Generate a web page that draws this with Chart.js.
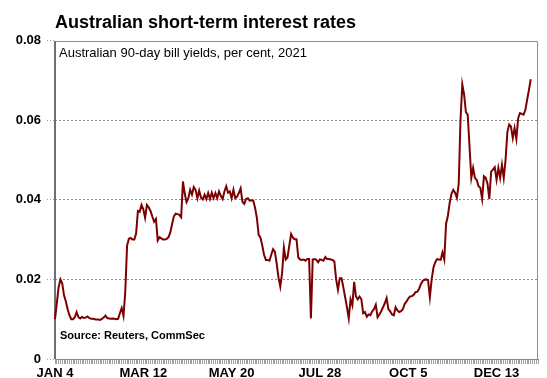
<!DOCTYPE html>
<html>
<head>
<meta charset="utf-8">
<script src="https://cdn.jsdelivr.net/npm/chart.js@4.4.1/dist/chart.umd.min.js"></script>
<style>
  html, body { margin: 0; padding: 0; background: #ffffff; }
  #wrap { width: 547px; height: 378px; position: relative; }
</style>
</head>
<body>
<div id="wrap"><canvas id="c" width="547" height="378"></canvas></div>
<script>
// ---- data ----
const titleText = 'Australian short-term interest rates';
const subtitleText = 'Australian 90-day bill yields, per cent, 2021';
const sourceText = 'Source: Reuters, CommSec';

const xTickLabels = ['JAN 4', 'MAR 12', 'MAY 20', 'JUL 28', 'OCT 5', 'DEC 13'];
const xTickEvery = 49;            // business days between labelled ticks
const categoryCount = 269;        // business-day slots on the axis

const yTickValues = [0, 0.02, 0.04, 0.06, 0.08];
const yTickLabels = ['0', '0.02', '0.04', '0.06', '0.08'];

const billYields = [
  0.010, 0.014, 0.018, 0.020, 0.019, 0.016, 0.0145, 0.0125, 0.011, 0.010,
  0.010, 0.0105, 0.0118, 0.0105, 0.0102, 0.0106, 0.0103, 0.0104, 0.0107, 0.0103,
  0.0101, 0.0101, 0.0100, 0.0099, 0.0099, 0.0098, 0.0101, 0.0104, 0.0109, 0.0103,
  0.0102, 0.0101, 0.0102, 0.0101, 0.0100, 0.0101, 0.0115, 0.0128, 0.0108, 0.017,
  0.0285, 0.0302, 0.0304, 0.0300, 0.0300, 0.0315, 0.0372, 0.0370, 0.0387, 0.0376,
  0.0355, 0.0387, 0.0381, 0.0372, 0.0358, 0.0345, 0.0352, 0.0298, 0.0306, 0.0303,
  0.0300, 0.0300, 0.0302, 0.0306, 0.0318, 0.0340, 0.0359, 0.0365, 0.0364, 0.0362,
  0.0356, 0.0446, 0.0415, 0.0394, 0.0404, 0.0425, 0.0413, 0.0432, 0.0425, 0.0404,
  0.0423, 0.0406, 0.0401,
  0.0413, 0.0402, 0.0417, 0.0402, 0.0418, 0.0404, 0.0417, 0.0404, 0.0421, 0.0410,
  0.0402, 0.0421, 0.0434, 0.0418, 0.0421, 0.0404, 0.0425, 0.0404, 0.0408, 0.0417,
  0.0429, 0.0395, 0.0390, 0.0402, 0.0404, 0.0398, 0.0399, 0.0398, 0.0380, 0.0355,
  0.0312, 0.0305, 0.0285, 0.0262, 0.0249, 0.0249, 0.0247, 0.0262, 0.0276, 0.0270,
  0.0240,
  0.0205, 0.0182, 0.0215, 0.0280, 0.0250, 0.0255, 0.0285, 0.0314, 0.0305, 0.0301,
  0.0301, 0.0255, 0.0250, 0.0249, 0.0250, 0.0247, 0.0251, 0.0251, 0.0102, 0.0250,
  0.0251, 0.0249, 0.0243, 0.0250, 0.0249, 0.0247, 0.0256, 0.0251, 0.0251, 0.0250,
  0.0249, 0.0245, 0.0200, 0.0174, 0.0203, 0.0203, 0.0180, 0.0155, 0.0130, 0.0102,
  0.0150, 0.0135, 0.0194, 0.0157, 0.0150, 0.0157, 0.0150, 0.0115, 0.0118, 0.0106,
  0.0112, 0.0110, 0.0120, 0.0125, 0.0136, 0.0105, 0.0112, 0.0120, 0.0130, 0.0140,
  0.0153, 0.0125, 0.0120, 0.0112, 0.0110, 0.0130, 0.0122, 0.0118, 0.0120, 0.0125,
  0.0138, 0.0144, 0.0152, 0.0157, 0.0158, 0.0161, 0.0168, 0.0169, 0.0176, 0.0188,
  0.0196, 0.0199, 0.0200, 0.0198, 0.0155, 0.0200, 0.0230, 0.0243, 0.0251, 0.0250,
  0.0249, 0.0268, 0.0250, 0.0340, 0.0360, 0.0392, 0.0415, 0.0425, 0.0418, 0.0405,
  0.0440, 0.0600, 0.0690, 0.0665, 0.0620, 0.0614, 0.0534, 0.0455, 0.0480, 0.0455,
  0.0450, 0.0434, 0.0430, 0.0402, 0.0459, 0.0455, 0.0440, 0.0402, 0.0471, 0.0476,
  0.0482, 0.0450, 0.0480, 0.0455, 0.0488, 0.0455, 0.0500, 0.0570, 0.0589, 0.0584,
  0.0555, 0.0580, 0.0553, 0.0605, 0.0618, 0.0616, 0.0614, 0.0626, 0.0652, 0.0677,
  0.0703
];

// business-day category labels starting 4 Jan 2021
const categories = [];
{
  const d = new Date(Date.UTC(2021, 0, 4));
  const mon = ['JAN','FEB','MAR','APR','MAY','JUN','JUL','AUG','SEP','OCT','NOV','DEC'];
  while (categories.length < categoryCount) {
    const wd = d.getUTCDay();
    if (wd !== 0 && wd !== 6) categories.push(mon[d.getUTCMonth()] + ' ' + d.getUTCDate());
    d.setUTCDate(d.getUTCDate() + 1);
  }
}

const FONT = 'Arial, "Liberation Sans", sans-serif';

const annotate = {
  id: 'annotate',
  beforeDatasetsDraw(chart) {
    const { ctx, chartArea: a } = chart;
    const L = Math.round(a.left), R = Math.round(a.right), T = Math.round(a.top), B = Math.round(a.bottom);
    ctx.save();
    ctx.setLineDash([]);
    ctx.fillStyle = '#ffffff';
    ctx.fillRect(L - 1, T - 1, R - L + 2, 2);
    ctx.strokeStyle = '#8f8f8f';
    ctx.lineWidth = 1;
    ctx.beginPath();
    ctx.moveTo(L, T + 0.5);
    ctx.lineTo(R - 0.5, T + 0.5);
    ctx.lineTo(R - 0.5, B);
    ctx.stroke();
    ctx.strokeStyle = '#707070';
    ctx.lineWidth = 2;
    ctx.beginPath();
    ctx.moveTo(L, T);
    ctx.lineTo(L, B);
    ctx.stroke();
    ctx.restore();
  },
  afterDatasetsDraw(chart) {
    const { ctx, chartArea: a } = chart;
    ctx.save();
    ctx.fillStyle = '#000';
    ctx.textBaseline = 'alphabetic';
    ctx.textAlign = 'left';
    ctx.font = '13px ' + FONT;
    ctx.fillText(subtitleText, a.left + 4, a.top + 16);
    ctx.font = 'bold 11px ' + FONT;
    ctx.fillText(sourceText, a.left + 5, a.bottom - 20);
    ctx.restore();
  }
};

new Chart(document.getElementById('c'), {
  type: 'line',
  data: {
    labels: categories,
    datasets: [{
      data: billYields,
      borderColor: '#7d0000',
      borderWidth: 2,
      pointRadius: 0,
      tension: 0,
      fill: false
    }]
  },
  options: {
    responsive: false,
    animation: false,
    layout: { padding: { left: 0, right: 9, top: 0, bottom: 0 } },
    plugins: {
      legend: { display: false },
      tooltip: { enabled: false },
      title: {
        display: true,
        text: titleText,
        align: 'start',
        fullSize: false,
        color: '#000',
        font: { family: FONT, size: 18, weight: 'bold' },
        padding: { top: 12, bottom: 7 }
      }
    },
    scales: {
      x: {
        type: 'category',
        offset: false,
        border: { display: true, color: '#8a8a8a', width: 1 },
        grid: {
          display: true,
          drawOnChartArea: false,
          drawTicks: true,
          tickLength: 5,
          tickColor: '#a0a0a0',
          tickWidth: 1
        },
        ticks: {
          autoSkip: false,
          maxRotation: 0,
          minRotation: 0,
          padding: 2,
          color: '#000',
          font: { family: FONT, size: 13, weight: 'bold' },
          callback: (v, i) => (i % xTickEvery === 0 && xTickLabels[i / xTickEvery] !== undefined) ? xTickLabels[i / xTickEvery] : ''
        },
        afterFit: (s) => { s.height = 19; }
      },
      y: {
        min: 0,
        max: 0.08,
        border: { display: false, dash: [2, 2] },
        grid: {
          color: '#8c8c8c',
          lineWidth: 1,
          tickLength: 8,
          tickColor: '#9a9a9a',
          tickBorderDash: [1, 2]
        },
        afterBuildTicks: (s) => { s.ticks = yTickValues.map(v => ({ value: v })); },
        ticks: {
          padding: 6,
          color: '#000',
          font: { family: FONT, size: 13, weight: 'bold' },
          callback: (v) => { const k = yTickValues.findIndex(t => Math.abs(t - v) < 1e-9); return k >= 0 ? yTickLabels[k] : ''; }
        },
        afterFit: (s) => { s.width = 55; }
      }
    }
  },
  plugins: [annotate]
});
</script>
</body>
</html>
